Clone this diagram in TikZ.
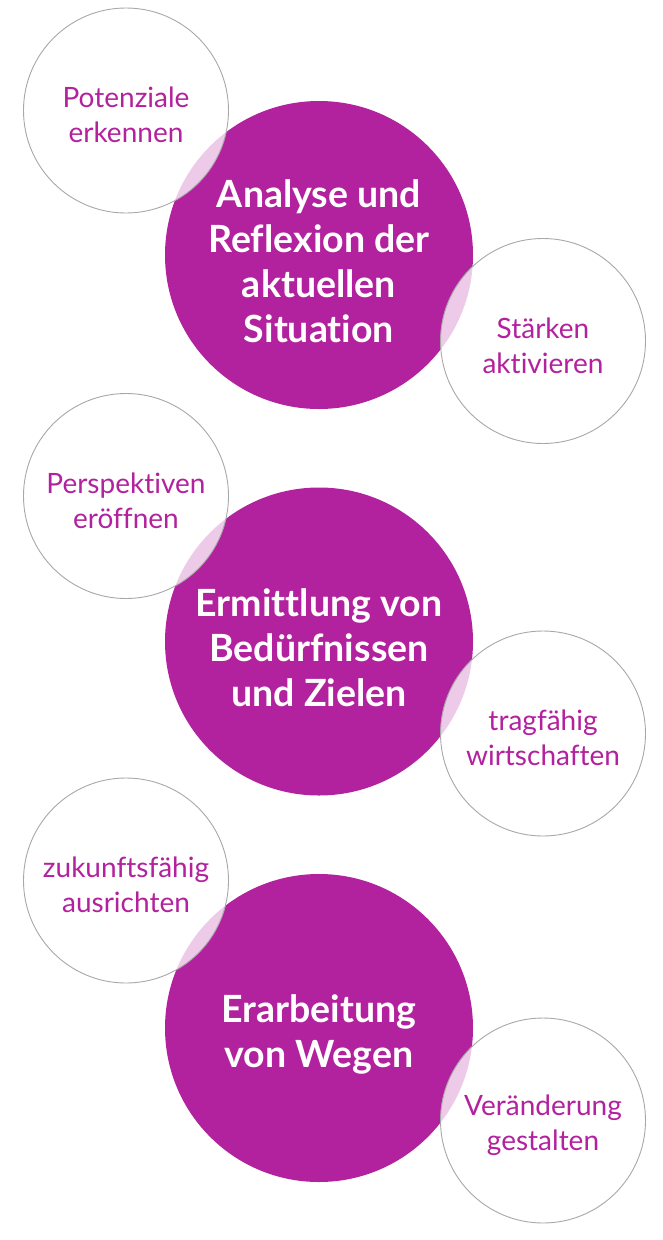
\documentclass[tikz,border=0pt]{standalone}
\usepackage{fontspec}
\setmainfont{Lato}[Ligatures=NoCommon]
\definecolor{brand}{HTML}{B3229E}
\definecolor{ring}{HTML}{A8A8A8}
\begin{document}
\begin{tikzpicture}[x=1pt,y=-1pt,
  bigc/.style={circle, fill=brand, minimum size=308pt, inner sep=0pt},
  smallc/.style={circle, draw=ring, line width=0.9pt, fill=white, fill opacity=0.77, minimum size=205pt, inner sep=0pt},
  bigtext/.style={text=white, font=\fontsize{37.5}{45}\selectfont\bfseries, align=center},
  smalltext/.style={text=brand, font=\fontsize{28}{35}\selectfont, align=center}]
\useasboundingbox (0,0) rectangle (663,1240);
% big circles
\node[bigc] (b1) at (319,255) {};
\node[bigc] (b2) at (319,641.5) {};
\node[bigc] (b3) at (319,1028) {};
% small circles
\node[smallc] (l1) at (126,110.5) {};
\node[smallc] (r1) at (543,341) {};
\node[smallc] (l2) at (126,496) {};
\node[smallc] (r2) at (543,733.5) {};
\node[smallc] (l3) at (126,880.5) {};
\node[smallc] (r3) at (543,1120.5) {};
% texts
\node[bigtext] (tb1) at ([yshift=-6pt]b1.center) {Analyse und\\Reflexion der\\aktuellen\\Situation};
\node[bigtext] (tb2) at ([yshift=-6pt]b2.center) {Ermittlung von\\Bedürfnissen\\und Zielen};
\node[bigtext] (tb3) at ([yshift=-6pt]b3.center) {Erarbeitung\\von Wegen};
\node[smalltext] (tl1) at ([yshift=-4.5pt]l1.center) {Potenziale\\erkennen};
\node[smalltext] (tr1) at ([yshift=-4.5pt]r1.center) {Stärken\\aktivieren};
\node[smalltext] (tl2) at ([yshift=-4.5pt]l2.center) {Perspektiven\\eröffnen};
\node[smalltext] (tr2) at ([yshift=-4.5pt]r2.center) {tragfähig\\wirtschaften};
\node[smalltext] (tl3) at ([yshift=-4.5pt]l3.center) {zukunftsfähig\\ausrichten};
\node[smalltext] (tr3) at ([yshift=-4.5pt]r3.center) {Veränderung\\gestalten};
\end{tikzpicture}
\end{document}
